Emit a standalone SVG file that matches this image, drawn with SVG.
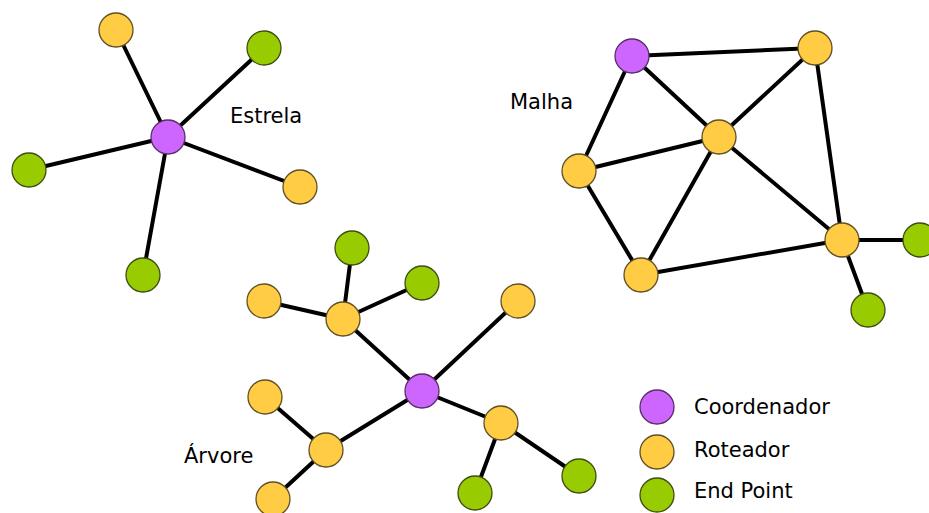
<svg xmlns="http://www.w3.org/2000/svg" width="929" height="513" viewBox="0 0 929 513">
<style>
.e line{stroke:#000;stroke-width:4;stroke-linecap:round}
.c{fill:#CC66FF;stroke:#5A2E66;stroke-width:1.3}
.r{fill:#FFCC44;stroke:#5E5028;stroke-width:1.3}
.g{fill:#99CC00;stroke:#3E4E14;stroke-width:1.3}
text{font-family:"DejaVu Sans",Verdana,sans-serif;font-size:21px;fill:#000}
</style>
<rect width="929" height="513" fill="#FFFFFF"/>
<g class="e" id="connectors">
<line x1="168" y1="137" x2="116" y2="30"/>
<line x1="168" y1="137" x2="264" y2="48"/>
<line x1="168" y1="137" x2="29" y2="170"/>
<line x1="168" y1="137" x2="300" y2="187"/>
<line x1="168" y1="137" x2="143" y2="275"/>
<line x1="632" y1="56" x2="815" y2="48"/>
<line x1="632" y1="56" x2="579" y2="171"/>
<line x1="632" y1="56" x2="719" y2="137"/>
<line x1="815" y1="48" x2="719" y2="137"/>
<line x1="815" y1="48" x2="842" y2="240"/>
<line x1="579" y1="171" x2="719" y2="137"/>
<line x1="579" y1="171" x2="641" y2="275"/>
<line x1="719" y1="137" x2="641" y2="275"/>
<line x1="719" y1="137" x2="842" y2="240"/>
<line x1="641" y1="275" x2="842" y2="240"/>
<line x1="842" y1="240" x2="920" y2="240"/>
<line x1="842" y1="240" x2="868" y2="310"/>
<line x1="343" y1="319" x2="352" y2="248"/>
<line x1="343" y1="319" x2="422" y2="283"/>
<line x1="343" y1="319" x2="264" y2="301"/>
<line x1="343" y1="319" x2="422" y2="391"/>
<line x1="422" y1="391" x2="518" y2="301"/>
<line x1="422" y1="391" x2="326" y2="450"/>
<line x1="422" y1="391" x2="501" y2="423"/>
<line x1="326" y1="450" x2="265" y2="397"/>
<line x1="326" y1="450" x2="273" y2="499"/>
<line x1="501" y1="423" x2="475" y2="493"/>
<line x1="501" y1="423" x2="579" y2="476"/>
</g>
<g id="star">
<circle id="s-coord" class="c" cx="168" cy="137" r="17"/>
<circle id="s-r1" class="r" cx="116" cy="30" r="17"/>
<circle id="s-g1" class="g" cx="264" cy="48" r="17"/>
<circle id="s-g2" class="g" cx="29" cy="170" r="17"/>
<circle id="s-r2" class="r" cx="300" cy="187" r="17"/>
<circle id="s-g3" class="g" cx="143" cy="275" r="17"/>
<text x="230" y="123">Estrela</text>
</g>
<g id="mesh">
<circle id="m-coord" class="c" cx="632" cy="56" r="17"/>
<circle id="m-r1" class="r" cx="815" cy="48" r="17"/>
<circle id="m-r2" class="r" cx="719" cy="137" r="17"/>
<circle id="m-r3" class="r" cx="579" cy="171" r="17"/>
<circle id="m-r4" class="r" cx="641" cy="275" r="17"/>
<circle id="m-r5" class="r" cx="842" cy="240" r="17"/>
<circle id="m-g1" class="g" cx="920" cy="240" r="17"/>
<circle id="m-g2" class="g" cx="868" cy="310" r="17"/>
<text x="510" y="109">Malha</text>
</g>
<g id="tree">
<circle id="t-g1" class="g" cx="352" cy="248" r="17"/>
<circle id="t-g2" class="g" cx="422" cy="283" r="17"/>
<circle id="t-r1" class="r" cx="264" cy="301" r="17"/>
<circle id="t-r2" class="r" cx="343" cy="319" r="17"/>
<circle id="t-r3" class="r" cx="518" cy="301" r="17"/>
<circle id="t-coord" class="c" cx="422" cy="391" r="17"/>
<circle id="t-r4" class="r" cx="265" cy="397" r="17"/>
<circle id="t-r5" class="r" cx="326" cy="450" r="17"/>
<circle id="t-r6" class="r" cx="273" cy="499" r="17"/>
<circle id="t-r7" class="r" cx="501" cy="423" r="17"/>
<circle id="t-g3" class="g" cx="475" cy="493" r="17"/>
<circle id="t-g4" class="g" cx="579" cy="476" r="17"/>
<text x="184" y="463">Árvore</text>
</g>
<g id="legend">
<circle class="c" cx="657" cy="407" r="17"/>
<circle class="r" cx="657" cy="452" r="17"/>
<circle class="g" cx="657" cy="495" r="17"/>
<text x="694" y="414">Coordenador</text>
<text x="694" y="457">Roteador</text>
<text x="694" y="498">End Point</text>
</g>
</svg>
